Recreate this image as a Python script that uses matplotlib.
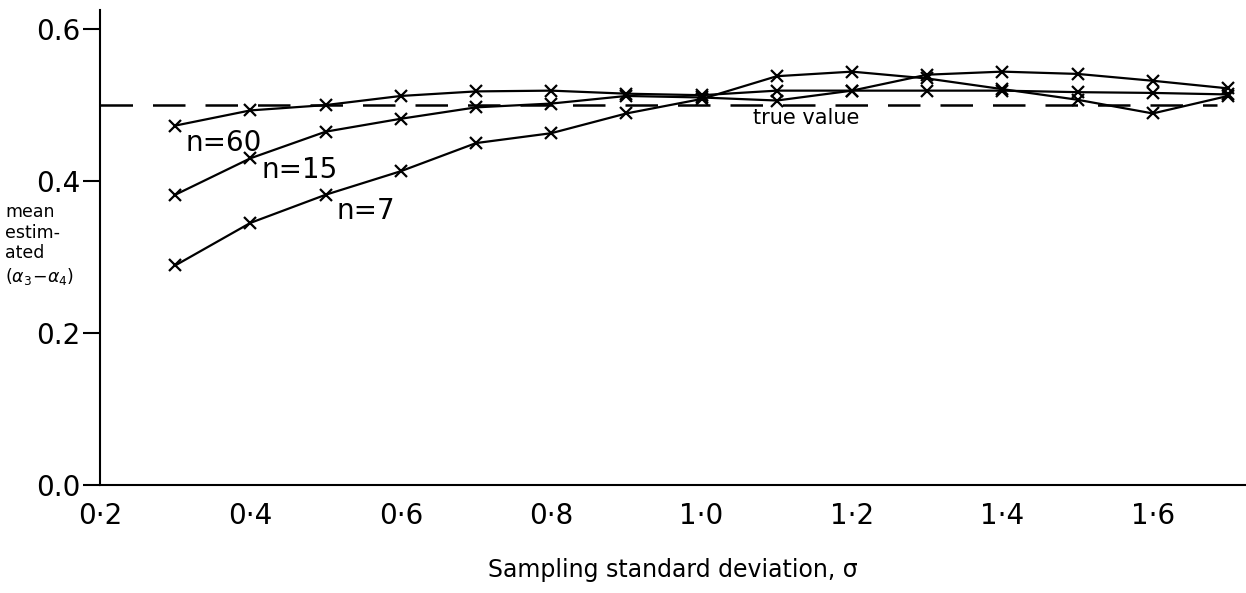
import numpy as np
import matplotlib
matplotlib.use("Agg")
import matplotlib.pyplot as plt

# sampling standard deviation
sigma = [0.3, 0.4, 0.5, 0.6, 0.7, 0.8, 0.9, 1.0, 1.1, 1.2, 1.3, 1.4, 1.5, 1.6, 1.7]

# mean estimated (alpha3 - alpha4) for each sample size
n60 = [0.473, 0.493, 0.500, 0.512, 0.518, 0.519, 0.515, 0.513,
       0.519, 0.519, 0.519, 0.519, 0.517, 0.516, 0.514]
n15 = [0.382, 0.430, 0.465, 0.482, 0.497, 0.502, 0.512, 0.510,
       0.506, 0.519, 0.540, 0.544, 0.541, 0.532, 0.522]
n7 = [0.289, 0.345, 0.382, 0.413, 0.450, 0.463, 0.489, 0.508,
      0.538, 0.544, 0.535, 0.521, 0.507, 0.489, 0.512]

true_value = 0.5

x_ticks = [0.2, 0.4, 0.6, 0.8, 1.0, 1.2, 1.4, 1.6]
x_labels = ["0·2", "0·4", "0·6", "0·8", "1·0", "1·2", "1·4", "1·6"]
y_ticks = [0.0, 0.2, 0.4, 0.6]
y_labels = ["0.0", "0.2", "0.4", "0.6"]

plt.rcParams["font.family"] = ["DejaVu Sans"]

fig = plt.figure(figsize=(12.46, 5.93), dpi=100)
ax = fig.add_axes([0.0803, 0.182, 0.9197, 0.801])

# dashed true value line
ax.axhline(true_value, xmin=0.0, xmax=0.975, color="black", lw=1.8,
           dashes=(13, 8))

# curves
for vals in [n60, n15, n7]:
    ax.plot(sigma, vals, color="black", lw=1.6, marker="x",
            markersize=9, markeredgewidth=1.6)

# curve labels
ax.text(0.313, 0.45, "n=60", fontsize=20, va="center", ha="left")
ax.text(0.415, 0.414, "n=15", fontsize=20, va="center", ha="left")
ax.text(0.515, 0.36, "n=7", fontsize=20, va="center", ha="left")
ax.text(1.068, 0.483, "true value", fontsize=15, va="center", ha="left")

ax.set_xlim(0.2, 1.724)
ax.set_ylim(0.0, 0.625)

# axes look
ax.spines["top"].set_visible(False)
ax.spines["right"].set_visible(False)
ax.spines["left"].set_linewidth(1.5)
ax.spines["bottom"].set_linewidth(1.5)

ax.set_xticks(x_ticks)
ax.set_xticklabels(x_labels, fontsize=20)
ax.tick_params(axis="x", length=0, pad=12)

ax.set_yticks(y_ticks)
ax.set_yticklabels(y_labels, fontsize=20)
ax.tick_params(axis="y", length=12, width=1.5, pad=2)

ax.set_xlabel("Sampling standard deviation, σ", fontsize=17, labelpad=20)

# y label written under the 0.4 tick
fig.text(0.004, 0.658, "mean\nestim-\nated\n" + r"$(\alpha_3\!-\!\alpha_4)$",
         fontsize=12.5, va="top", ha="left", linespacing=1.2)

fig.savefig("out.png", dpi=100)
